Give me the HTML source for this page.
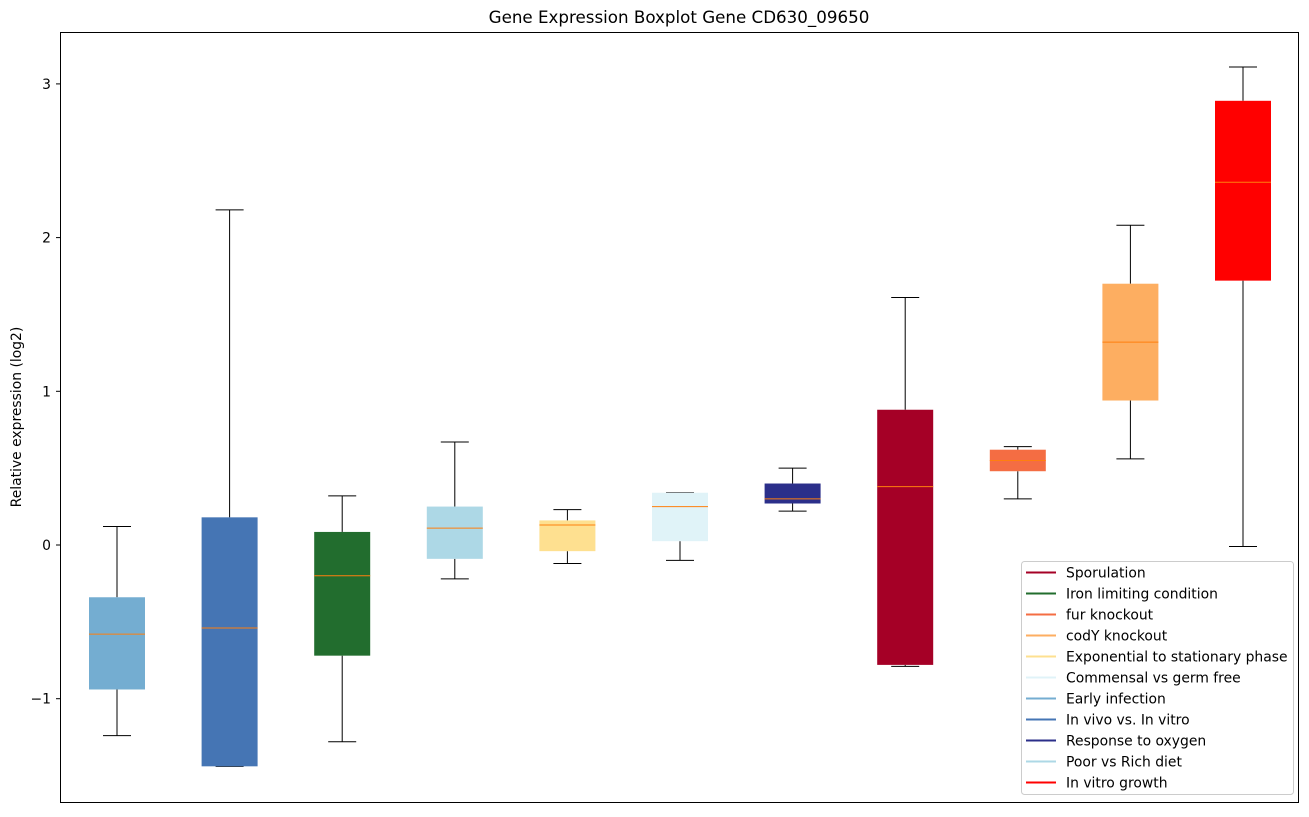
<!DOCTYPE html>
<html><head><meta charset="utf-8"><style>
body{margin:0;background:#fff;font-family:"Liberation Sans","DejaVu Sans",sans-serif;}
svg text{font-family:"DejaVu Sans","Liberation Sans",sans-serif;}
</style></head><body>
<svg id="chart" width="1309" height="812" xmlns="http://www.w3.org/2000/svg">
<rect width="1309" height="812" fill="#fff"/>
<text x="679" y="23" font-size="16.7" text-anchor="middle">Gene Expression Boxplot Gene CD630_09650</text>
<text transform="translate(21,417) rotate(-90)" font-size="13.9" text-anchor="middle">Relative expression (log2)</text>
<g id="marks"></g>
<g id="yticks"></g>
<rect x="60.5" y="32.5" width="1238" height="770" fill="none" stroke="#000" stroke-width="1"/>
<g id="legend"></g>
</svg>
<script>
const categories=["Early infection","In vivo vs. In vitro","Iron limiting condition","Poor vs Rich diet","Exponential to stationary phase","Commensal vs germ free","Response to oxygen","Sporulation","fur knockout","codY knockout","In vitro growth"];
const colors=["#74add1","#4575b4","#226d2e","#add8e6","#fee090","#e0f3f8","#2b2f8a","#a50026","#f46d43","#fdae61","#ff0000"];
const whiskerLow=[-1.24,-1.44,-1.28,-0.22,-0.12,-0.10,0.22,-0.79,0.30,0.56,-0.01];
const q1=[-0.94,-1.44,-0.72,-0.09,-0.04,0.025,0.27,-0.78,0.48,0.94,1.72];
const medians=[-0.58,-0.54,-0.20,0.11,0.13,0.25,0.30,0.38,0.55,1.32,2.36];
const q3=[-0.34,0.18,0.085,0.25,0.16,0.34,0.40,0.88,0.62,1.70,2.89];
const whiskerHigh=[0.12,2.18,0.32,0.67,0.23,0.34,0.50,1.61,0.64,2.08,3.11];
const yTicks=[-1,0,1,2,3];
const legendLabels=["Sporulation","Iron limiting condition","fur knockout","codY knockout","Exponential to stationary phase","Commensal vs germ free","Early infection","In vivo vs. In vitro","Response to oxygen","Poor vs Rich diet","In vitro growth"];
const legendColors=["#a50026","#226d2e","#f46d43","#fdae61","#fee090","#e0f3f8","#74add1","#4575b4","#2b2f8a","#add8e6","#ff0000"];

const NS="http://www.w3.org/2000/svg";
const xs=i=>60.7+(i+0.5)*112.6;
const ys=v=>545-v*153.7;
function mk(t,a,p){const e=document.createElementNS(NS,t);for(const k in a)e.setAttribute(k,a[k]);p.appendChild(e);return e;}
const marks=document.getElementById('marks');
const bw=56;
categories.forEach((c,i)=>{
  const x=xs(i);
  const g=mk('g',{},marks);
  
  
  mk('line',{x1:x,x2:x,y1:ys(whiskerLow[i]),y2:ys(q1[i]),stroke:'#000'},g);
  mk('line',{x1:x,x2:x,y1:ys(q3[i]),y2:ys(whiskerHigh[i]),stroke:'#000'},g);
  mk('line',{x1:x-14,x2:x+14,y1:ys(whiskerLow[i]),y2:ys(whiskerLow[i]),stroke:'#000'},g);
  mk('line',{x1:x-14,x2:x+14,y1:ys(whiskerHigh[i]),y2:ys(whiskerHigh[i]),stroke:'#000'},g);
  mk('rect',{x:x-bw/2,y:ys(q3[i]),width:bw,height:Math.max(1,ys(q1[i])-ys(q3[i])),fill:colors[i]},g);
  mk('line',{x1:x-bw/2,x2:x+bw/2,y1:ys(medians[i]),y2:ys(medians[i]),stroke:'#ff7f0e'},g);
});
const yt=document.getElementById('yticks');
yTicks.forEach(v=>{
  const y=ys(v);
  const l=mk('line',{x1:56,x2:60,y1:y,y2:y,stroke:'#000'},yt);
  
  
  const t=mk('text',{x:51,y:y+5,'font-size':13.9,'text-anchor':'end'},yt);
  
  
  t.textContent=v<0?'\u2212'+(-v):String(v);
});
const lg=document.getElementById('legend');


mk('rect',{x:1021.5,y:561.5,width:272,height:233,rx:3,fill:'#fff',stroke:'#ccc'},lg);
legendLabels.forEach((s,i)=>{
  const y=572.5+i*21;
  const e=mk('g',{},lg);
  
  
  mk('line',{x1:1026,x2:1056,y1:y,y2:y,stroke:legendColors[i],'stroke-width':2},e);
  const t=mk('text',{x:1066,y:y+5,'font-size':13.9},e);
  t.textContent=s;
});
</script>
</body></html>
